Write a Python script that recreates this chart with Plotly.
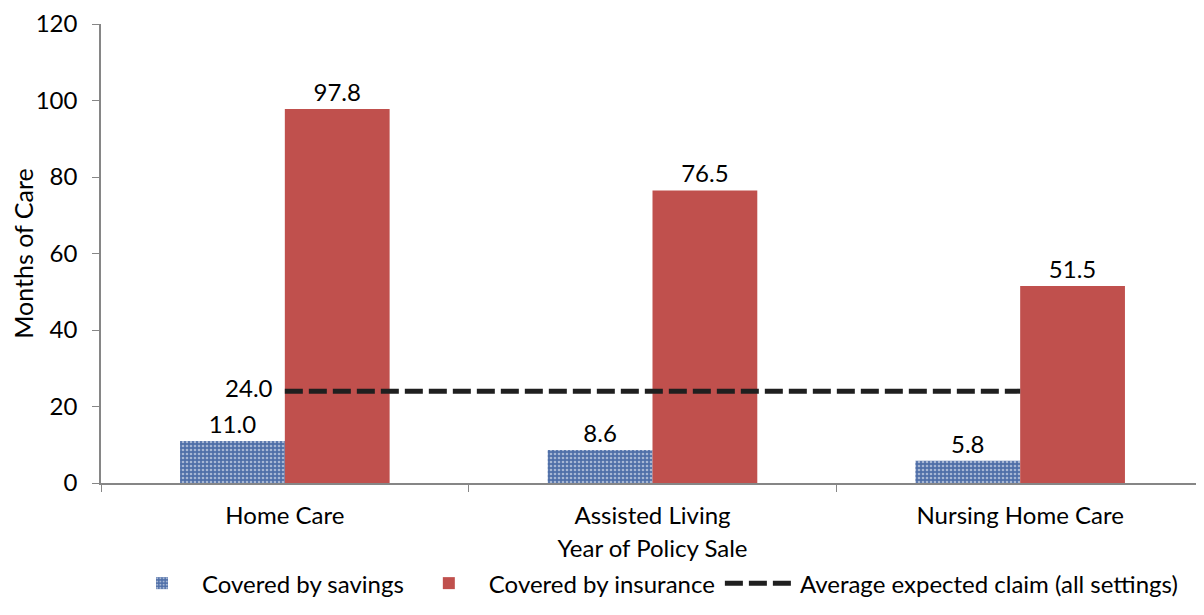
import plotly.graph_objects as go

categories = ["Home Care", "Assisted Living", "Nursing Home Care"]
savings = [11.0, 8.6, 5.8]
insurance = [97.8, 76.5, 51.5]
avg_claim = [24.0, 24.0, 24.0]
avg_labels = ["24.0  ", "", ""]
y_ticks = [0, 20, 40, 60, 80, 100, 120]

FONT = "Lato"
FS = 24
fig = go.Figure()
fig.add_trace(go.Bar(
    x=categories, y=savings, name="Covered by savings",
    text=[f"{v:.1f}" for v in savings], textposition="outside",
    textfont=dict(size=FS, color="black"),
    marker=dict(color="#4F6FA8", line=dict(width=0),
                pattern=dict(shape=".", fgcolor="#FFFFFF", bgcolor="#4F6FA8",
                             size=4, solidity=0.35, fillmode="overlay")),
    cliponaxis=False,
))
fig.add_trace(go.Bar(
    x=categories, y=insurance, name="Covered by insurance",
    text=[f"{v:.1f}" for v in insurance], textposition="outside",
    textfont=dict(size=FS, color="black"),
    marker=dict(color="#C0504D", line=dict(width=0)),
    cliponaxis=False,
))
fig.add_trace(go.Scatter(
    x=categories, y=avg_claim, name="Average expected claim (all settings)",
    mode="lines+text", text=avg_labels, textposition="middle left",
    textfont=dict(size=FS, color="black"),
    line=dict(color="#1F1F1F", width=5, dash="18px,6px"),
    cliponaxis=False,
))
fig.update_layout(
    width=1196, height=607,
    margin=dict(l=93, r=0, t=12, b=132),
    plot_bgcolor="white", paper_bgcolor="white",
    font=dict(family=FONT, size=FS, color="black"),
    barmode="group", bargap=0.43, bargroupgap=0,
    showlegend=True,
    legend=dict(orientation="h", x=0.5, xanchor="center", y=-0.17, yanchor="top",
                font=dict(size=FS), itemwidth=70, traceorder="normal",
                tracegroupgap=0),
    xaxis=dict(showline=True, linecolor="#868686", linewidth=1.5,
               ticks="outside", tickson="boundaries", ticklen=7, tickcolor="#868686",
               ticklabelstandoff=10, tickfont=dict(size=FS),
               title=dict(text="Year of Policy Sale", standoff=13, font=dict(size=24)),
               showgrid=False),
    yaxis=dict(range=[0, 120], tickvals=y_ticks, showline=True, linecolor="#868686",
               linewidth=1.5, ticks="outside", ticklen=7, tickcolor="#868686",
               ticklabelstandoff=10, ticklabeloverflow="allow", tickfont=dict(size=FS),
               showgrid=False, zeroline=False,
               title=dict(text="Months of Care", standoff=8, font=dict(size=25))),
)
fig.write_html("out.html")
